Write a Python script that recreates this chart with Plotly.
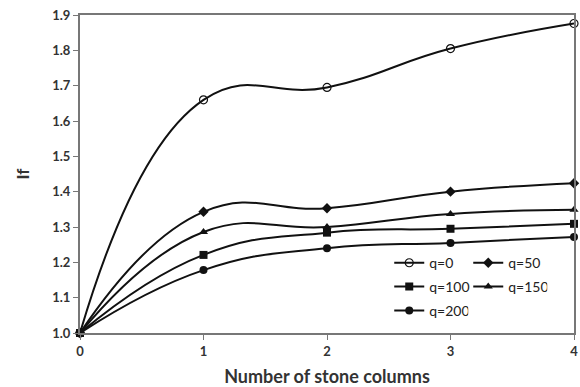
import plotly.graph_objects as go

# Number of stone columns and improvement factor If for each surcharge q
columns = [0, 1, 2, 3, 4]
if_q0 = [1.0, 1.66, 1.695, 1.805, 1.876]
if_q50 = [1.0, 1.343, 1.353, 1.40, 1.424]
if_q100 = [1.0, 1.221, 1.284, 1.295, 1.309]
if_q150 = [1.0, 1.286, 1.30, 1.337, 1.349]
if_q200 = [1.0, 1.178, 1.24, 1.255, 1.272]

y_ticks = [1.0, 1.1, 1.2, 1.3, 1.4, 1.5, 1.6, 1.7, 1.8, 1.9]
x_ticks = [0, 1, 2, 3, 4]

FONT = "Lato"

series = [
    ("q=0", if_q0, dict(symbol="circle-open", size=8, color="#111", line=dict(width=1.2, color="#111")), "legend"),
    ("q=50", if_q50, dict(symbol="diamond", size=8, color="#111"), "legend"),
    ("q=100", if_q100, dict(symbol="square", size=8, color="#111"), "legend2"),
    ("q=150", if_q150, dict(symbol="triangle-up", size=8, color="#111"), "legend2"),
    ("q=200", if_q200, dict(symbol="circle", size=8, color="#111"), "legend3"),
]

fig = go.Figure()
for name, vals, marker, leg in series:
    fig.add_trace(go.Scatter(
        x=columns, y=vals, name=name, mode="lines+markers",
        line=dict(color="#111", width=2, shape="spline", smoothing=1.3),
        marker=marker, legend=leg, cliponaxis=False,
    ))

legend_common = dict(
    orientation="h", xanchor="left", yanchor="top",
    bgcolor="rgba(0,0,0,0)", borderwidth=0,
    font=dict(family=FONT, size=14, color="#222"),
    entrywidth=34, itemwidth=30, tracegroupgap=0,
)

fig.update_layout(
    width=580, height=387,
    margin=dict(l=80, r=2, t=15, b=54),
    paper_bgcolor="white", plot_bgcolor="white",
    font=dict(family=FONT, size=12, color="#333"),
    showlegend=True,
    legend=dict(x=0.626, y=0.27, **legend_common),
    legend2=dict(x=0.626, y=0.195, **legend_common),
    legend3=dict(x=0.626, y=0.12, **legend_common),
    xaxis=dict(
        range=[0, 4], tickvals=x_ticks, ticktext=[str(v) for v in x_ticks],
        showgrid=False, zeroline=False,
        showline=True, linecolor="#777", linewidth=2, mirror=True,
        ticks="outside", ticklen=5, tickcolor="#777", tickwidth=1,
        ticklabeloverflow="allow",
        tickfont=dict(family=FONT, size=13, color="#333", weight="bold"),
        title=dict(text="<b>Number of stone columns</b>", standoff=14,
                   font=dict(family=FONT, size=18, color="#333")),
    ),
    yaxis=dict(
        range=[1.0, 1.9], tickvals=y_ticks, tickformat=".1f",
        showgrid=False, zeroline=False,
        showline=True, linecolor="#777", linewidth=2, mirror=True,
        ticks="outside", ticklen=5, tickcolor="#777", tickwidth=1,
        ticklabeloverflow="allow",
        tickfont=dict(family=FONT, size=13, color="#333", weight="bold"),
        title=dict(text="<b>If</b>", standoff=18,
                   font=dict(family=FONT, size=17, color="#333")),
    ),
)

fig.write_html("out.html")
